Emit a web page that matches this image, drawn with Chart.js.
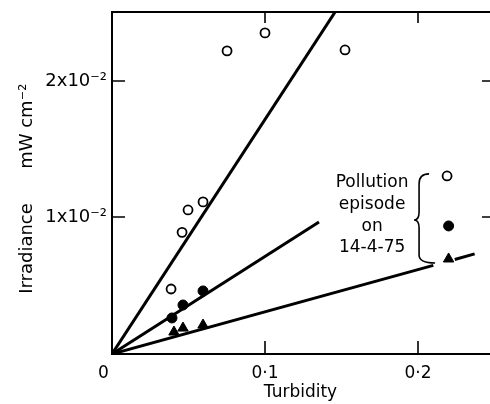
<!DOCTYPE html>
<html>
<head>
<meta charset="utf-8">
<script src="https://cdn.jsdelivr.net/npm/chart.js@4/dist/chart.umd.min.js"></script>
<style>
html,body{margin:0;padding:0;background:#fff;}
#wrap{width:490px;height:404px;position:relative;}
</style>
</head>
<body>
<div id="wrap"><canvas id="c"></canvas></div>
<script>
// ---- data ----
const openX   = [0.0386, 0.0458, 0.0497, 0.0595, 0.0752, 0.100, 0.1523, 0.219];
const openY   = [0.00476, 0.00891, 0.01055, 0.01114, 0.0222, 0.02352, 0.02227, 0.01304];
const filledX = [0.0392, 0.0464, 0.0595, 0.220];
const filledY = [0.00264, 0.00359, 0.00462, 0.00938];
const triX    = [0.0405, 0.0464, 0.0595, 0.220];
const triY    = [0.00161, 0.0019, 0.00212, 0.00696];
const fitSteepX = [0, 0.15];
const fitSteepY = [0, 0.02577];
const fitMidX   = [0, 0.1353];
const fitMidY   = [0, 0.00967];
const fitLowX   = [0, 0.21, 0.22, 0.224, 0.237];
const fitLowY   = [0, 0.00649, null, 0.00692, 0.00733];
const xTickValues = [0, 0.1, 0.2];
const xTickLabels = ['0\u2002\u2002', '0\u00b71', '0\u00b72'];
const yTickValues = [0.01, 0.02];
const yTickLabels = ['1x10\u207b\u00b2', '2x10\u207b\u00b2'];
const noteLines = ['Pollution', 'episode', 'on', '14-4-75'];
const noteX = 0.170, noteY = 0.01253, noteStep = 0.00159;
const braceX = 0.2007, braceTop = 0.01319, braceMid = 0.00982, braceBottom = 0.00667;
const xTitle = 'Turbidity';
const yTitle = 'Irradiance      mW cm\u207b\u00b2  ';

const pts = (xs, ys) => xs.map((x, i) => ({x: x, y: ys[i]}));
const FONT = 'DejaVu Sans';

const framePlugin = {
  id: 'frame',
  afterDatasetsDraw(chart) {
    const {ctx, chartArea: a, scales: {x, y}} = chart;
    ctx.save();
    ctx.strokeStyle = '#000';
    ctx.lineWidth = 2;
    ctx.beginPath();
    ctx.moveTo(a.left, a.top); ctx.lineTo(a.left, a.bottom);
    ctx.moveTo(a.left - 1, a.bottom); ctx.lineTo(a.right + 2, a.bottom);
    ctx.moveTo(a.left - 1, a.top); ctx.lineTo(a.right + 2, a.top);
    ctx.stroke();
    ctx.lineWidth = 1.6;
    ctx.beginPath();
    [0.1, 0.2].forEach(v => {
      const px = Math.round(x.getPixelForValue(v));
      ctx.moveTo(px, a.bottom); ctx.lineTo(px, a.bottom - 13);
      ctx.moveTo(px, a.top); ctx.lineTo(px, a.top + 11);
    });
    yTickValues.forEach(v => {
      const py = Math.round(y.getPixelForValue(v));
      ctx.moveTo(a.left, py); ctx.lineTo(a.left + 13, py);
      ctx.moveTo(a.right + 2, py); ctx.lineTo(a.right - 7, py);
    });
    ctx.stroke();

    // annotation text
    ctx.fillStyle = '#000';
    ctx.font = '17px "' + FONT + '"';
    ctx.textAlign = 'center';
    ctx.textBaseline = 'middle';
    noteLines.forEach((t, i) => {
      ctx.fillText(t, x.getPixelForValue(noteX), y.getPixelForValue(noteY - i * noteStep));
    });

    // curly brace
    const bx = x.getPixelForValue(braceX);
    const t = y.getPixelForValue(braceTop);
    const m = y.getPixelForValue(braceMid);
    const b = y.getPixelForValue(braceBottom);
    ctx.lineWidth = 1.6;
    ctx.beginPath();
    ctx.moveTo(bx + 10, t);
    ctx.quadraticCurveTo(bx, t, bx, t + 10);
    ctx.lineTo(bx, m - 8);
    ctx.quadraticCurveTo(bx, m, bx - 5, m);
    ctx.quadraticCurveTo(bx, m, bx, m + 8);
    ctx.lineTo(bx, b - 8);
    ctx.quadraticCurveTo(bx, b, bx + 16, b);
    ctx.stroke();
    ctx.restore();
  }
};

new Chart(document.getElementById('c'), {
  type: 'scatter',
  data: {
    datasets: [
      {data: pts(fitSteepX, fitSteepY), type: 'line', showLine: true, borderColor: '#000', borderWidth: 3, pointRadius: 0, fill: false},
      {data: pts(fitMidX, fitMidY), type: 'line', showLine: true, borderColor: '#000', borderWidth: 3, pointRadius: 0, fill: false},
      {data: pts(fitLowX, fitLowY), type: 'line', showLine: true, spanGaps: false, borderColor: '#000', borderWidth: 3, pointRadius: 0, fill: false},
      {data: pts(openX, openY), pointStyle: 'circle', pointRadius: 4.5, pointBorderWidth: 1.8, pointBackgroundColor: '#fff', pointBorderColor: '#000'},
      {data: pts(filledX, filledY), pointStyle: 'circle', pointRadius: 5, pointBorderWidth: 1, pointBackgroundColor: '#000', pointBorderColor: '#000'},
      {data: pts(triX, triY), pointStyle: 'triangle', pointRadius: 6, pointBorderWidth: 1, pointBackgroundColor: '#000', pointBorderColor: '#000'}
    ]
  },
  options: {
    responsive: true,
    maintainAspectRatio: false,
    animation: false,
    events: [],
    layout: {autoPadding: false, padding: {top: 12, right: 1, left: 0, bottom: 0}},
    plugins: {legend: {display: false}, tooltip: {enabled: false}},
    scales: {
      x: {
        type: 'linear', min: 0, max: 0.2464,
        grid: {display: false}, border: {display: false},
        afterBuildTicks: s => { s.ticks = xTickValues.map(v => ({value: v})); },
        afterFit: s => { s.height = 50; s.paddingLeft = 0; s.paddingRight = 0; },
        ticks: {
          color: '#000', padding: 1, maxRotation: 0, autoSkip: false,
          font: {family: FONT, size: 17},
          callback: (v) => xTickLabels[xTickValues.indexOf(v)]
        },
        title: {display: true, text: xTitle, color: '#000', font: {family: FONT, size: 17}, padding: {top: 0, bottom: 1}}
      },
      y: {
        type: 'linear', min: 0, max: 0.02505,
        grid: {display: false}, border: {display: false},
        afterBuildTicks: s => { s.ticks = yTickValues.map(v => ({value: v})); },
        afterFit: s => { s.width = 112; s.paddingTop = 0; s.paddingBottom = 0; },
        ticks: {
          color: '#000', padding: -3, autoSkip: false,
          font: {family: FONT, size: 18},
          callback: (v) => yTickLabels[yTickValues.indexOf(v)]
        },
        title: {display: true, text: yTitle, color: '#000', font: {family: FONT, size: 18}, padding: {top: 17, bottom: 0}}
      }
    }
  },
  plugins: [framePlugin]
});
</script>
</body>
</html>
